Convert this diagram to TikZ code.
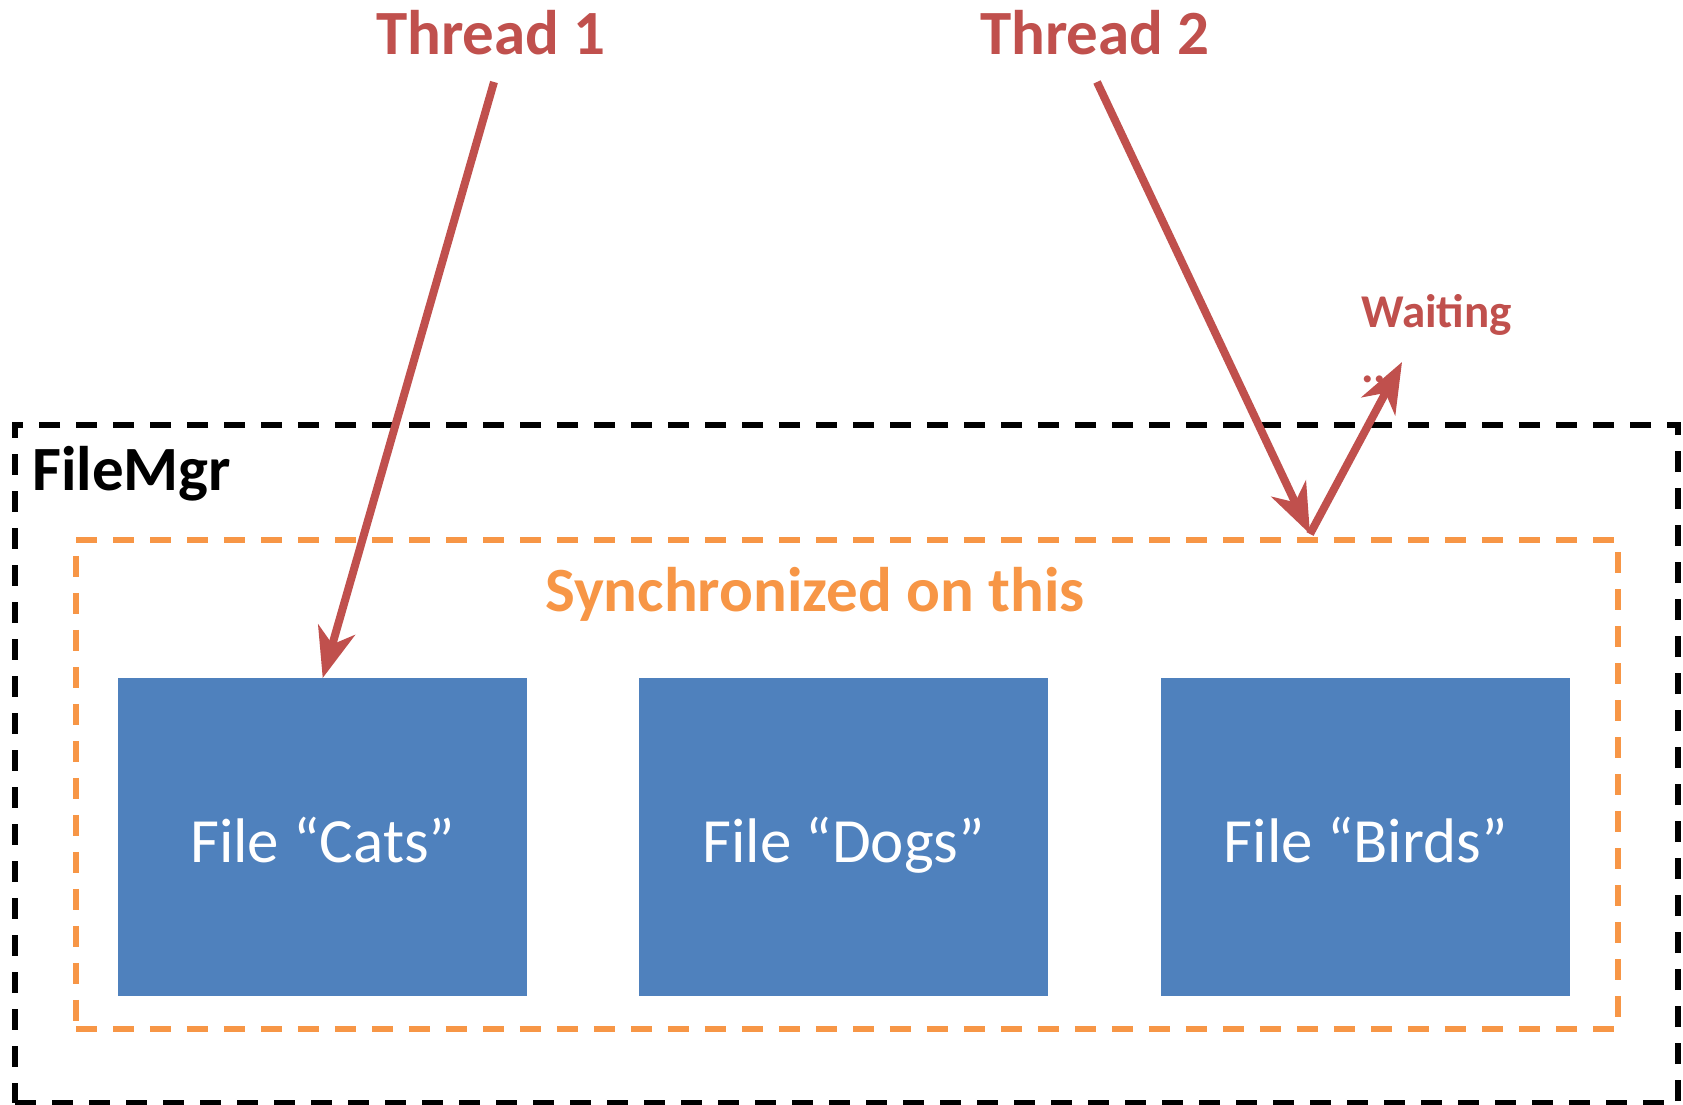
\documentclass[tikz,border=0pt]{standalone}
\usepackage{fontspec}
\setmainfont{Carlito}
\usetikzlibrary{arrows.meta,calc}
\definecolor{tred}{HTML}{C0504D}
\definecolor{sorange}{HTML}{F79646}
\definecolor{fblue}{HTML}{4F81BD}
\tikzset{
  big/.style={font=\fontsize{63}{75}\selectfont},
  filebox/.style={fill=fblue, draw=none, minimum width=409pt, minimum height=318pt, inner sep=0pt, anchor=north west},
  filetext/.style={big, text=white, anchor=base, inner sep=0pt},
  threadarrow/.style={draw=tred, line width=8pt, -{Stealth[length=50pt, width=38pt, inset=15pt]}},
  outerbox/.style={draw=black, line width=6pt, dash pattern=on 21pt off 16pt, inner sep=0pt, anchor=north west},
  syncbox/.style={draw=sorange, line width=5.5pt, dash pattern=on 21pt off 16pt, inner sep=0pt, anchor=north west},
}
\begin{document}
\begin{tikzpicture}[x=1pt, y=-1pt]
\useasboundingbox (0,0) rectangle (1683,1104);
% boxes
\node[outerbox, minimum width=1663pt, minimum height=678pt] (fm) at (12,422) {};
\node[syncbox, minimum width=1542pt, minimum height=489pt] (sync) at (73,537) {};
\node[filebox] (cats) at (118,678) {};
\node[filebox] (dogs) at (639,678) {};
\node[filebox] (birds) at (1161,678) {};
\node[filetext] (catsl) at ($(cats.center)+(0,25)$) {File “Cats”};
\node[filetext] (dogsl) at ($(dogs.center)+(0,25)$) {File “Dogs”};
\node[filetext] (birdsl) at ($(birds.center)+(0,25)$) {File “Birds”};
% labels
\node[font=\fontsize{63}{75}\selectfont\bfseries, anchor=base west, inner sep=0pt] (fml) at (32,490) {FileMgr};
\node[font=\fontsize{63}{75}\selectfont\bfseries, text=sorange, anchor=base west, inner sep=0pt] (syncl) at (545,611) {Synchronized on this};
\node[font=\fontsize{63}{75}\selectfont\bfseries, text=tred, anchor=base west, inner sep=0pt] (t1) at (376,54) {Thread 1};
\node[font=\fontsize{63}{75}\selectfont\bfseries, text=tred, anchor=base west, inner sep=0pt] (t2) at (980,54) {Thread 2};
\node[font=\fontsize{47}{56}\selectfont\bfseries, text=tred, anchor=base west, inner sep=0pt] (wait) at (1361,327) {Waiting};
\node[font=\fontsize{47}{56}\selectfont\bfseries, text=tred, anchor=base west, inner sep=0pt] (dots) at (1361,382) {...};
% connectors
\coordinate (t1s) at (494,82);
\coordinate (t2s) at (1097,82);
\coordinate (lock) at (1310,534);
\coordinate (wtip) at (1402,362);
\draw[threadarrow] (t1s) -- (cats.north);
\draw[threadarrow] (t2s) -- (lock);
\draw[threadarrow] (lock) -- (wtip);
\end{tikzpicture}
\end{document}
